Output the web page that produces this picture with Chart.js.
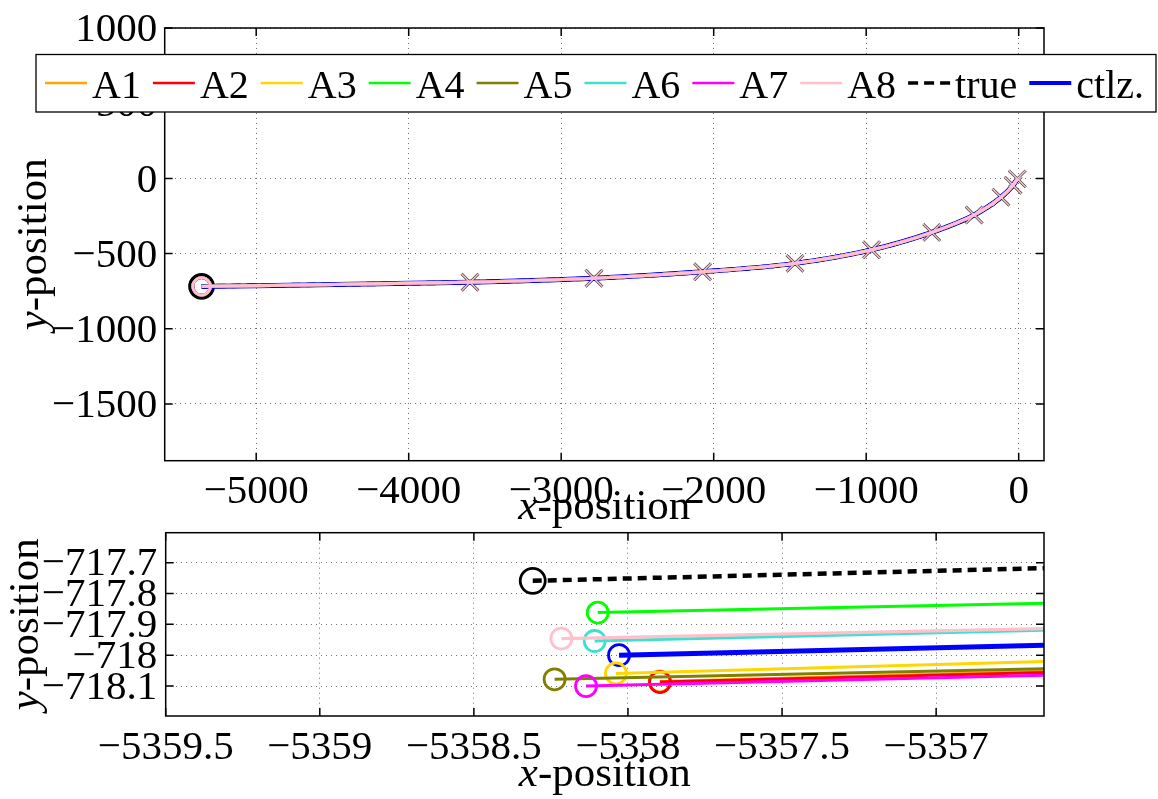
<!DOCTYPE html>
<html>
<head>
<meta charset="utf-8">
<script src="https://cdn.jsdelivr.net/npm/chart.js@4.4.1/dist/chart.umd.min.js"></script>
<style>
  html, body { margin: 0; padding: 0; background: #fff; }
  #wrap { position: relative; width: 1158px; height: 799px; }
  canvas { position: absolute; left: 0; }
  #top { top: 0; }
  #bot { top: 500px; }
</style>
</head>
<body>
<div id="wrap">
  <canvas id="top" width="1158" height="532"></canvas>
  <canvas id="bot" width="1158" height="299"></canvas>
</div>
<script>
const names = ['A1', 'A2', 'A3', 'A4', 'A5', 'A6', 'A7', 'A8', 'true', 'ctlz.'];
const colors = ['#FFA500', '#FF0000', '#FFD700', '#00FF00', '#808000', '#40E0D0', '#FF00FF', '#FFC0CB', '#000000', '#0000FF'];
const widths = [3, 3, 3, 3, 3, 3, 3, 3.2, 4.5, 5];

// whole trajectory after the start point (same for all series at this scale)
const trajX = [-3598, -2785, -2073, -1467, -965, -570, -292, -116, -37, -9];
const trajY = [-690, -664, -621, -565, -475, -359, -243, -125, -46, -3];

// zoom on the start: start of each series and its value at the right edge
const startX = [-5357.897, -5357.896, -5358.039, -5358.098, -5358.238, -5358.108, -5358.136, -5358.216, -5358.309, -5358.029];
const startY = [-718.085, -718.087, -718.059, -717.862, -718.078, -717.954, -718.100, -717.946, -717.759, -718.000];
const edgeX = -5356.65;
const edgeY = [-718.052, -718.056, -718.020, -717.832, -718.044, -717.919, -718.065, -717.914, -717.718, -717.968];

const topXTicks = [-5000, -4000, -3000, -2000, -1000, 0];
const topYTicks = [-1500, -1000, -500, 0, 500, 1000];
const botXTicks = [-5359.5, -5359, -5358.5, -5358, -5357.5, -5357];
const botYTicks = [-718.1, -718, -717.9, -717.8, -717.7];

const SERIF = '"Liberation Serif", "Times New Roman", serif';

// true and ctlz. go underneath, A8 on top
function orderOf(i) { return i === 8 ? 10 : i === 9 ? 9 : 8 - i; }

function axis(min, max, ticks, o) {
  return {
    type: 'linear', min: min, max: max,
    afterBuildTicks: s => { s.ticks = ticks.map(v => ({ value: v })); },
    afterFit: s => { if (o.width) s.width = o.width; if (o.height) s.height = o.height; },
    grid: { color: 'rgba(0,0,0,0.55)', lineWidth: 1, drawTicks: false },
    border: { display: false, dash: [1, 4] },
    ticks: {
      autoSkip: false, maxRotation: 0, minRotation: 0,
      padding: o.pad, labelOffset: o.off || 0, color: '#000',
      font: { family: SERIF, size: 41, lineHeight: 1 },
      callback: v => String(v).replace('-', '\u2212')
    }
  };
}

function drawTitle(ctx, letter, cx, cy, rot) {
  ctx.save();
  ctx.translate(cx, cy);
  if (rot) ctx.rotate(-Math.PI / 2);
  const it = 'italic 43px ' + SERIF, rm = '43px ' + SERIF;
  ctx.font = it; const w1 = ctx.measureText(letter).width;
  ctx.font = rm; const w2 = ctx.measureText('-position').width;
  const x0 = -(w1 + w2) / 2;
  ctx.fillStyle = '#000'; ctx.textAlign = 'left'; ctx.textBaseline = 'alphabetic';
  ctx.font = it; ctx.fillText(letter, x0, 0);
  ctx.font = rm; ctx.fillText('-position', x0 + w1, 0);
  ctx.restore();
}

// box, inward ticks and axis titles, matlab style
const frame = {
  id: 'frame',
  afterDatasetsDraw(chart, args, o) {
    const ctx = chart.ctx, a = chart.chartArea, x = chart.scales.x, y = chart.scales.y;
    ctx.save();
    ctx.strokeStyle = '#000';
    ctx.lineWidth = 1.5;
    ctx.strokeRect(a.left, a.top, a.right - a.left, a.bottom - a.top);
    ctx.beginPath();
    x.ticks.forEach(t => {
      const p = x.getPixelForValue(t.value);
      ctx.moveTo(p, a.bottom); ctx.lineTo(p, a.bottom - 8);
      ctx.moveTo(p, a.top); ctx.lineTo(p, a.top + 8);
    });
    y.ticks.forEach(t => {
      const p = y.getPixelForValue(t.value);
      ctx.moveTo(a.left, p); ctx.lineTo(a.left + 8, p);
      ctx.moveTo(a.right, p); ctx.lineTo(a.right - 8, p);
    });
    ctx.stroke();
    ctx.restore();
    drawTitle(ctx, 'x', (a.left + a.right) / 2, o.xBase, false);
    drawTitle(ctx, 'y', o.yBase, (a.top + a.bottom) / 2, true);
  }
};

const legendBox = {
  id: 'legendBox',
  afterDraw(chart) {
    const ctx = chart.ctx;
    ctx.save();
    ctx.fillStyle = '#fff';
    ctx.fillRect(36, 54.5, 1120, 57.5);
    ctx.strokeStyle = '#000';
    ctx.lineWidth = 1.3;
    ctx.strokeRect(36, 54.5, 1120, 57.5);
    ctx.font = '40px ' + SERIF;
    ctx.textBaseline = 'alphabetic';
    let x = 45;
    names.forEach((n, i) => {
      ctx.beginPath();
      ctx.strokeStyle = colors[i];
      ctx.lineWidth = i === 9 ? 4 : i === 8 ? 3.5 : 2.7;
      ctx.setLineDash(i === 8 ? [10, 6] : []);
      ctx.moveTo(x, 83); ctx.lineTo(x + 42, 83);
      ctx.stroke();
      ctx.setLineDash([]);
      ctx.fillStyle = '#000';
      ctx.fillText(n, x + 47, 98);
      x += 47 + ctx.measureText(n).width + 12;
    });
    ctx.restore();
  }
};

const topSets = names.map((n, i) => {
  const pts = [{ x: startX[i], y: startY[i] }].concat(trajX.map((v, k) => ({ x: v, y: trajY[k] })));
  const isTrue = i === 8, isPink = i === 7;
  return {
    label: n,
    data: pts,
    borderColor: colors[i],
    borderWidth: widths[i],
    borderDash: isTrue ? [9, 6] : [],
    cubicInterpolationMode: 'monotone',
    order: orderOf(i),
    pointStyle: pts.map((p, k) => k === 0 ? 'circle' : 'crossRot'),
    pointRadius: pts.map((p, k) => k === 0 ? (isTrue ? 11.5 : 8.8) : (isTrue || isPink ? 12 : 0)),
    pointBorderWidth: pts.map((p, k) => k === 0 ? (isTrue ? 3.8 : 2.8) : (isTrue ? 2.8 : 1.4)),
    pointBorderColor: pts.map((p, k) => (isTrue && k > 0) ? '#444' : colors[i]),
    pointBackgroundColor: 'rgba(0,0,0,0)'
  };
});

const botSets = names.map((n, i) => ({
  label: n,
  data: [{ x: startX[i], y: startY[i] }, { x: edgeX, y: edgeY[i] }],
  borderColor: colors[i],
  borderWidth: widths[i],
  borderDash: i === 8 ? [9, 6] : [],
  order: orderOf(i),
  pointStyle: 'circle',
  pointRadius: [i === 8 ? 12.5 : 10.5, 0],
  pointBorderWidth: 2.8,
  pointBorderColor: colors[i],
  pointBackgroundColor: 'rgba(0,0,0,0)'
}));

function common(pad) {
  return {
    responsive: false,
    animation: false,
    events: [],
    layout: { padding: pad },
    plugins: { legend: { display: false }, tooltip: { enabled: false } }
  };
}

const topOpts = common({ left: 0, right: 114, top: 22.7, bottom: 0 });
topOpts.scales = {
  x: axis(-5600, 166, topXTicks, { height: 71.3, pad: 11 }),
  y: axis(-1877, 1000, topYTicks, { width: 164.7, pad: 7.5, off: 2.5 })
};
topOpts.plugins.frame = { xBase: 519, yBase: 46 };

new Chart(document.getElementById('top'), {
  type: 'line',
  data: { datasets: topSets },
  options: topOpts,
  plugins: [frame, legendBox]
});

const botOpts = common({ left: 0, right: 114, top: 32.7, bottom: 0 });
botOpts.scales = {
  x: axis(-5359.5, -5356.65, botXTicks, { height: 83, pad: 12 }),
  y: axis(-718.197, -717.603, botYTicks, { width: 165.7, pad: 8.5, off: 2 })
};
botOpts.plugins.frame = { xBase: 286, yBase: 38 };

new Chart(document.getElementById('bot'), {
  type: 'line',
  data: { datasets: botSets },
  options: botOpts,
  plugins: [frame]
});
</script>
</body>
</html>
